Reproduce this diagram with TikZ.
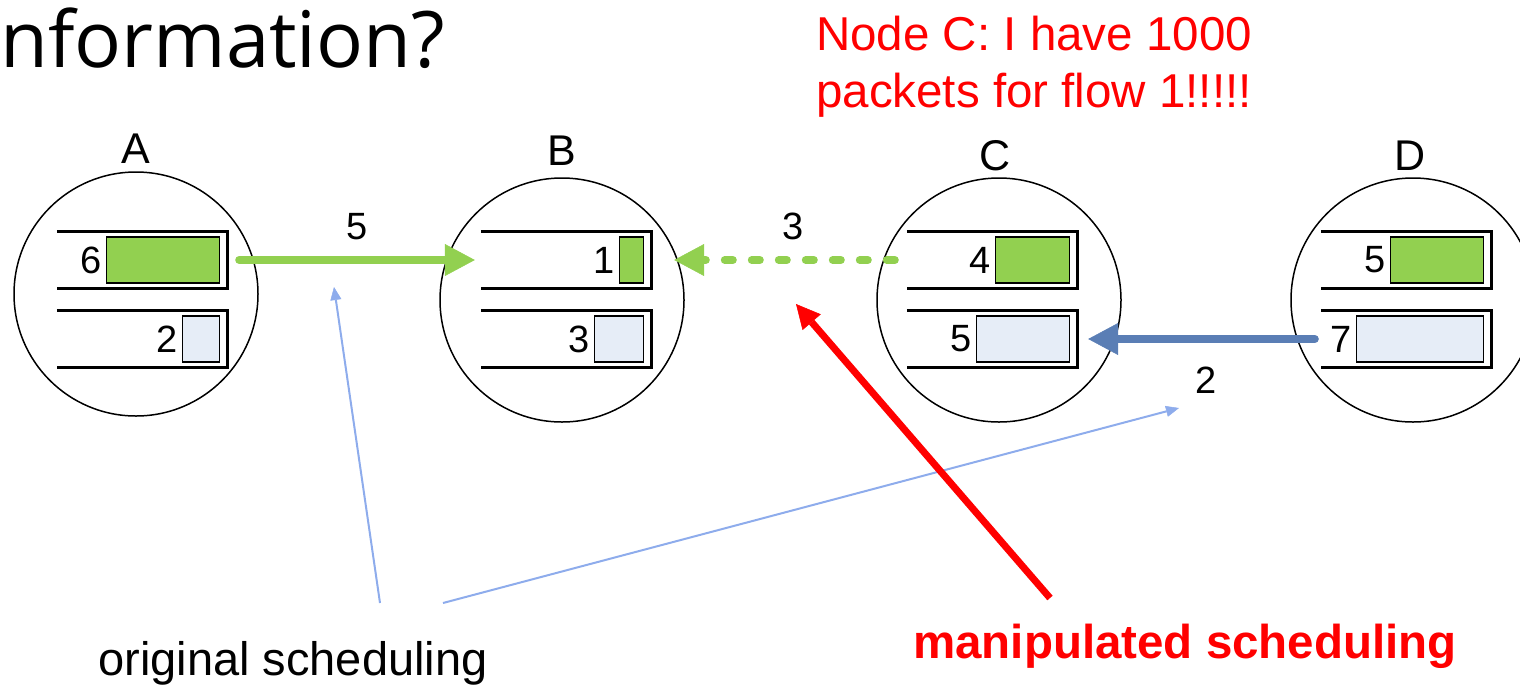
\documentclass[tikz,border=0pt]{standalone}
\usepackage{fontspec}
\setmainfont{Liberation Sans}
\newfontfamily\headfont{Open Sans}
\usetikzlibrary{arrows.meta}

\definecolor{flowgreen}{HTML}{92D050}
\definecolor{flowpale}{HTML}{E6EDF7}
\definecolor{linkblue}{HTML}{5A7EB5}
\definecolor{hintblue}{HTML}{8EACEC}

\begin{document}
\begin{tikzpicture}[x=1pt,y=-1pt,
  station/.style={draw,circle,line width=1.5pt,minimum size=244pt,inner sep=0pt},
  stlabel/.style={font=\fontsize{43}{45}\selectfont,inner sep=0pt,anchor=base},
  queue/.style={minimum width=170pt,minimum height=56pt,inner sep=0pt},
  qline/.style={line width=3pt},
  pkt/.style={draw,line width=1.5pt,minimum height=46pt,inner sep=0pt,anchor=east},
  num/.style={font=\fontsize{38}{40}\selectfont,inner sep=4pt,anchor=east},
  wlabel/.style={font=\fontsize{38}{40}\selectfont,text=black,inner sep=0pt},
  link/.style={line width=8pt,line cap=round,
    -{Triangle[length=30pt,width=32pt,line width=0.5pt]}},
  hint/.style={hintblue,line width=2pt,
    -{Triangle[length=13pt,width=11pt,line width=0.5pt]}},
]
\useasboundingbox (0,0) rectangle (1520,686);

\node [font=\headfont\fontsize{78}{90}\selectfont,anchor=base west,inner sep=0pt]
  (title) at (0,67) {nformation?};
\node [text=red,align=left,anchor=base west,inner sep=0pt,font=\fontsize{47.5}{57}\selectfont]
  (claim) at (816,107) {Node C: I have 1000\\packets for flow 1!!!!!};

\node [station] (A) at ( 136,294) {};
\node [station] (B) at ( 562,300) {};
\node [station] (C) at ( 999,300) {};
\node [station] (D) at (1413,300) {};

\node [stlabel] (labA) at ( 136,163) {A};
\node [stlabel] (labB) at ( 562,165) {B};
\node [stlabel] (labC) at ( 995,170) {C};
\node [stlabel] (labD) at (1410,170) {D};

\foreach \s/\qx/\wa/\na/\wb/\nb in {A/142/113/6/37/2, B/566/24/1/49/3,
                                    C/992/74/4/93/5, D/1406/93/5/127/7} {
  \node [queue] (q\s1) at (\qx,260) {};
  \node [queue] (q\s2) at (\qx,339) {};
  \draw [qline] (q\s1.north west) -| (q\s1.south east) -- (q\s1.south west);
  \draw [qline] (q\s2.north west) -| (q\s2.south east) -- (q\s2.south west);
  \node [pkt,fill=flowgreen,minimum width=\wa pt] (p\s1) at ([xshift=-7pt]q\s1.east) {};
  \node [pkt,fill=flowpale,minimum width=\wb pt]  (p\s2) at ([xshift=-7pt]q\s2.east) {};
  \node [num] (n\s1) at (p\s1.west) {\na};
  \node [num] (n\s2) at (p\s2.west) {\nb};
}

\draw [link,flowgreen] ([xshift=12pt]qA1.east) --
  node [wlabel,anchor=south,above=16pt] (wAB) {5}
  ([xshift=-6pt]qB1.west);
\draw [link,flowgreen,dash pattern=on 8pt off 19pt] ([xshift=-12pt]qC1.west) --
  node [wlabel,anchor=south,above=16pt,pos=0.46] (wCB) {3}
  ([xshift=23pt]qB1.east);
\draw [link,linkblue] ([xshift=-6pt]qD2.west) --
  node [wlabel,anchor=north,below=24pt,pos=0.48] (wDC) {2}
  ([xshift=11pt]qC2.east);

\node [font=\fontsize{47}{50}\selectfont,anchor=base] (orig) at (293,675) {original scheduling};
\node [font=\bfseries\fontsize{47.5}{50}\selectfont,text=red,anchor=base]
  (manip) at (1185,658) {manipulated scheduling};

\coordinate (origtailA) at (380,603);
\coordinate (origtailB) at (443,603);
\coordinate (origtipA)  at (334,287);
\coordinate (origtipB)  at (1179,408);
\coordinate (maniptail) at (1050,598);
\coordinate (maniptip)  at (796,304);

\draw [hint] (origtailA) -- (origtipA);
\draw [hint] (origtailB) -- (origtipB);
\draw [red,line width=7pt,-{Triangle[length=24pt,width=24pt,line width=0.5pt]}]
  (maniptail) -- (maniptip);
\end{tikzpicture}
\end{document}
